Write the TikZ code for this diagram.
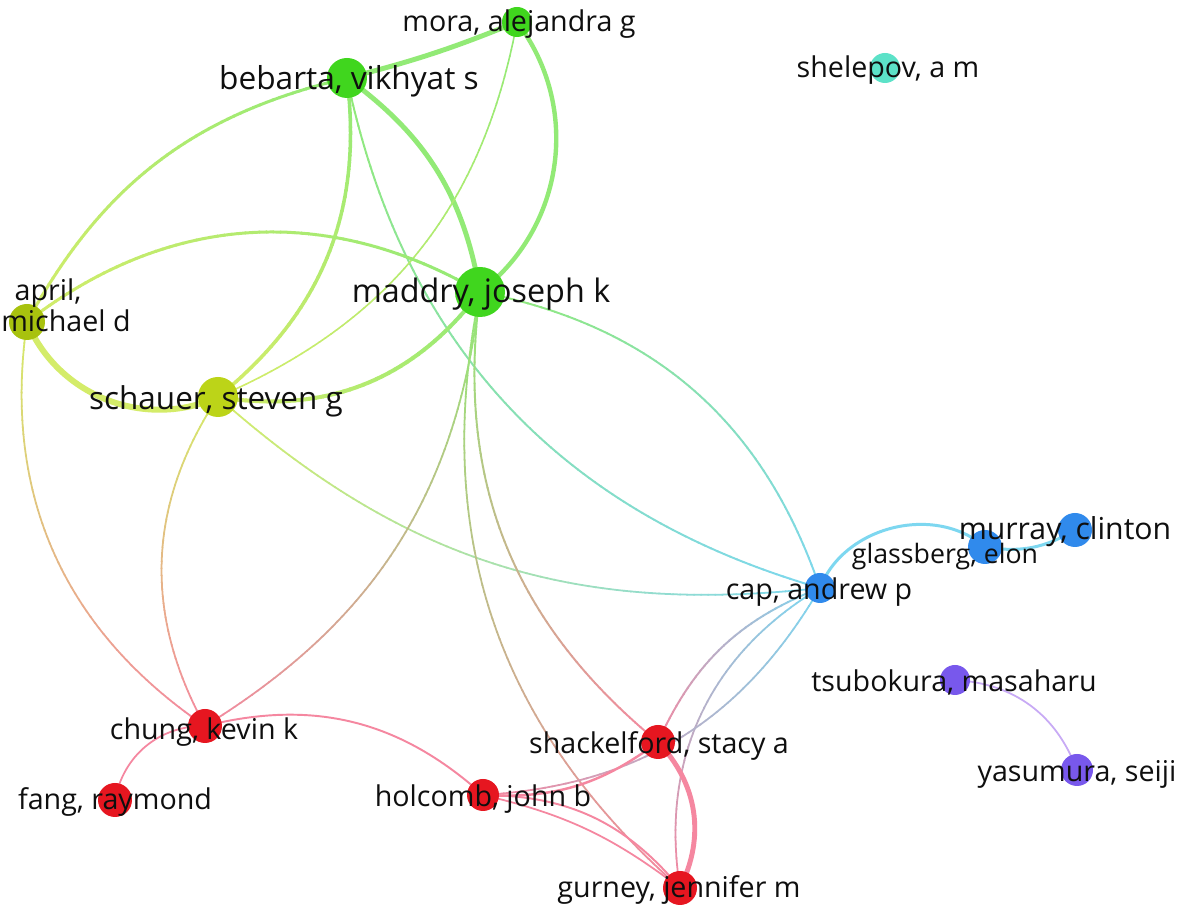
\documentclass[tikz,border=0pt]{standalone}
\usepackage{fontspec}
\setmainfont{Open Sans}
\usetikzlibrary{decorations.markings}
\pgfdeclarelayer{edges}
\pgfsetlayers{edges,main}
\definecolor{ngreen}{RGB}{64,214,30}
\definecolor{nolive}{RGB}{168,194,14}
\definecolor{nyellow}{RGB}{188,212,24}
\definecolor{nteal}{RGB}{92,226,200}
\definecolor{nblue}{RGB}{48,138,236}
\definecolor{npurple}{RGB}{120,88,236}
\definecolor{nred}{RGB}{230,22,32}
\definecolor{eg}{RGB}{146,234,118}
\definecolor{ey}{RGB}{212,236,105}
\definecolor{ec}{RGB}{125,215,240}
\definecolor{er}{RGB}{245,135,160}
\definecolor{ep}{RGB}{200,170,245}
\definecolor{txt}{RGB}{15,15,15}
\tikzset{
  nd/.style 2 args={circle, fill=#1, minimum size=#2, inner sep=0pt},
  lbl/.style={font=\fontsize{#1}{#1}\selectfont, text=txt, anchor=mid, inner sep=0pt},
  gedge/.style n args={3}{decoration={markings,
     mark=between positions 0 and 1 step 4pt with {%
       \pgfmathtruncatemacro\gp{100-100*(\pgfkeysvalueof{/pgf/decoration/mark info/distance from start}/\pgfdecoratedpathlength)}%
       \draw[#1!\gp!#2, line width=#3, line cap=round] (-0.2pt,0) -- (4.2pt,0);}}, decorate},
}
\begin{document}
\begin{tikzpicture}[x=0.02cm,y=0.02cm]
\useasboundingbox (0,0) rectangle (1181,912);
% nodes
\node[nd={ngreen}{0.6cm}] (mora) at (517,890) {};
\node[nd={ngreen}{0.8cm}] (bebarta) at (347,834) {};
\node[nd={nteal}{0.6cm}] (shelepov) at (885,844) {};
\node[nd={ngreen}{1.0cm}] (maddry) at (480,620) {};
\node[nd={nolive}{0.72cm}] (april) at (27,590) {};
\node[nd={nyellow}{0.8cm}] (schauer) at (218,515) {};
\node[nd={nblue}{0.68cm}] (murray) at (1075,382) {};
\node[nd={nblue}{0.68cm}] (glassberg) at (985,365) {};
\node[nd={nblue}{0.6cm}] (cap) at (820,324) {};
\node[nd={npurple}{0.6cm}] (tsubokura) at (955,232) {};
\node[nd={npurple}{0.64cm}] (yasumura) at (1077,142) {};
\node[nd={nred}{0.68cm}] (chung) at (205,186) {};
\node[nd={nred}{0.68cm}] (shackelford) at (658,170) {};
\node[nd={nred}{0.68cm}] (fang) at (115,112) {};
\node[nd={nred}{0.64cm}] (holcomb) at (483,117) {};
\node[nd={nred}{0.68cm}] (gurney) at (680,24) {};
% edges
\begin{pgfonlayer}{edges}
\fill[white] (0,0) rectangle (1181,912);
\draw[line width=2.8pt, eg] (bebarta.center) to[bend right=4] (mora.center);
\draw[line width=2.5pt, eg] (mora.center) to[bend left=45] (maddry.center);
\draw[line width=2.8pt, eg] (bebarta.center) to[bend left=22] (maddry.center);
\path[gedge={eg}{ey}{1.7pt}] (bebarta.center) to[bend right=24] (april.center);
\path[gedge={eg}{ey}{2.0pt}] (bebarta.center) to[bend left=29] (schauer.center);
\path[gedge={eg}{ec}{1.1pt}] (bebarta.center) to[bend right=31] (cap.center);
\path[gedge={eg}{ey}{0.9pt}] (mora.center) to[bend left=28] (schauer.center);
\path[gedge={ey}{eg}{1.7pt}] (april.center) to[bend left=34] (maddry.center);
\draw[line width=3.4pt, ey] (april.center) to[bend right=46] (schauer.center);
\path[gedge={ey}{eg}{2.26pt}] (schauer.center) to[bend right=31] (maddry.center);
\path[gedge={ey}{er}{1.0pt}] (april.center) to[bend right=32] (chung.center);
\path[gedge={ey}{er}{1.0pt}] (schauer.center) to[bend right=31] (chung.center);
\path[gedge={ey}{ec}{1.0pt}] (schauer.center) to[bend right=24] (cap.center);
\path[gedge={eg}{er}{1.0pt}] (maddry.center) to[bend left=26] (chung.center);
\path[gedge={eg}{ec}{1.1pt}] (maddry.center) to[bend left=30] (cap.center);
\path[gedge={eg}{er}{1.1pt}] (maddry.center) to[bend right=29] (shackelford.center);
\path[gedge={eg}{er}{1.0pt}] (maddry.center) to[bend right=30] (gurney.center);
\draw[line width=1.7pt, ec] (cap.center) to[bend left=55] (glassberg.center);
\draw[line width=1.7pt, ec] (glassberg.center) to[bend right=20] (murray.center);
\path[gedge={ec}{er}{1.1pt}] (cap.center) to[bend right=22] (shackelford.center);
\path[gedge={ec}{er}{1.0pt}] (cap.center) to[bend right=34] (gurney.center);
\path[gedge={ec}{er}{1.0pt}] (cap.center) to[bend left=28] (holcomb.center);
\draw[line width=1.4pt, er] (holcomb.center) to[bend right=20] (shackelford.center);
\draw[line width=1.1pt, er] (holcomb.center) to[bend left=25] (gurney.center);
\draw[line width=1.0pt, er] (holcomb.center) to[bend left=12] (gurney.center);
\draw[line width=1.1pt, er] (chung.center) to[bend left=28] (holcomb.center);
\draw[line width=1.0pt, er] (chung.center) to[bend right=40] (fang.center);
\draw[line width=2.8pt, er] (shackelford.center) to[bend left=35] (gurney.center);
\draw[line width=1.0pt, ep] (tsubokura.center) to[bend left=33] (yasumura.center);
\end{pgfonlayer}
% labels
\node[lbl=16.3] (lmora) at (519,885) {mora, alejandra g};
\node[lbl=18] (lbebarta) at (349,827) {bebarta, vikhyat s};
\node[lbl=16.3] (lshelepov) at (888,839) {shelepov, a m};
\node[lbl=18.4] (lmaddry) at (481,614) {maddry, joseph k};
\node[lbl=16.3] (lapril1) at (48,616) {april,};
\node[lbl=16.3] (lapril2) at (66,585) {michael d};
\node[lbl=17.9] (lschauer) at (216,507) {schauer, steven g};
\node[lbl=17.2] (lmurray) at (1065,377) {murray, clinton};
\node[lbl=15.2] (lglassberg) at (945,353) {glassberg, elon};
\node[lbl=16.3] (lcap) at (819,317) {cap, andrew p};
\node[lbl=16.3] (ltsubokura) at (954,225) {tsubokura, masaharu};
\node[lbl=16.3] (lyasumura) at (1077,135) {yasumura, seiji};
\node[lbl=16.3] (lchung) at (204,177) {chung, kevin k};
\node[lbl=16.3] (lfang) at (115,107) {fang, raymond};
\node[lbl=16.3] (lholcomb) at (483,110) {holcomb, john b};
\node[lbl=16.3] (lshackelford) at (659,163) {shackelford, stacy a};
\node[lbl=16.3] (lgurney) at (679,19) {gurney, jennifer m};
\end{tikzpicture}
\end{document}
